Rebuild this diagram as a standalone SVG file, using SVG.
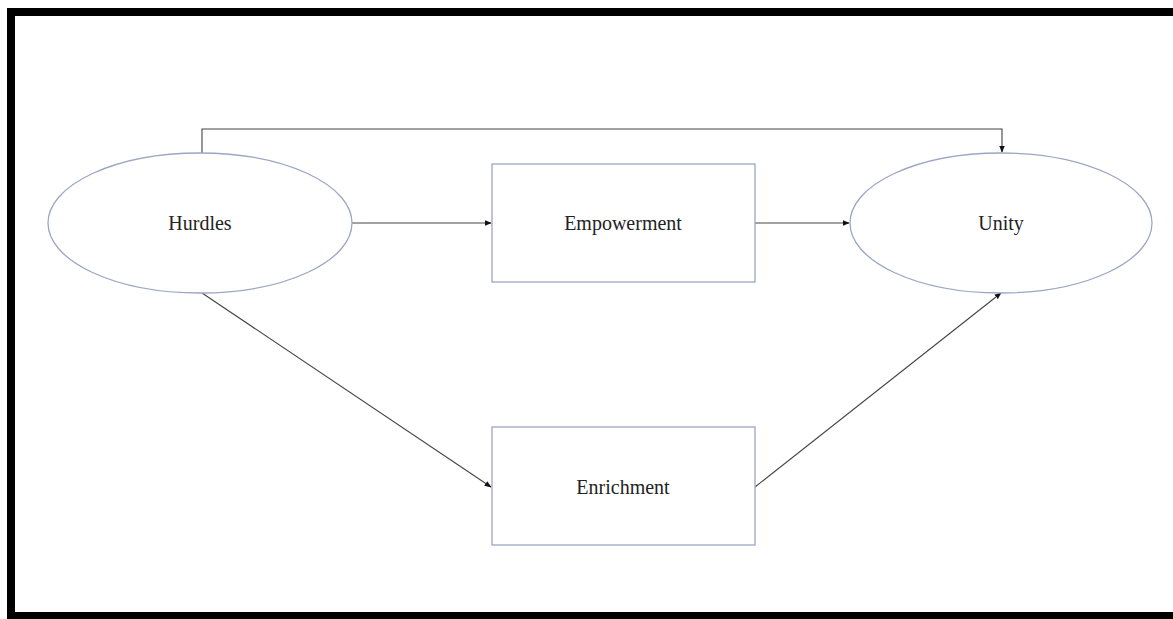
<svg xmlns="http://www.w3.org/2000/svg" width="1173" height="619" viewBox="0 0 1173 619">
<style>
.node{fill:#fff;stroke:#9aa6c4;stroke-width:1.3}
.lbl{font-family:"Liberation Serif",serif;font-size:20px;fill:#222;text-anchor:middle}
.conn{fill:none;stroke:#444;stroke-width:1.1}
</style>
<defs>
<marker id="ah" viewBox="0 0 10 10" refX="9" refY="5" markerWidth="7" markerHeight="7" orient="auto" markerUnits="userSpaceOnUse">
<path d="M0,1 L10,5 L0,9 z" fill="#111"/>
</marker>
</defs>
<rect x="0" y="0" width="1173" height="619" fill="#fff"/>
<rect x="7" y="8" width="1166" height="8" fill="#000"/>
<rect x="7" y="8" width="8" height="611" fill="#000"/>
<rect x="7" y="612" width="1166" height="7" fill="#000"/>
<g id="connectors">
<path class="conn" d="M202,153 V129 H1002 V152" marker-end="url(#ah)"/>
<path class="conn" d="M352,223 H491" marker-end="url(#ah)"/>
<path class="conn" d="M755,223 H849" marker-end="url(#ah)"/>
<path class="conn" d="M202,293 L491,487" marker-end="url(#ah)"/>
<path class="conn" d="M755,487 L1001,293" marker-end="url(#ah)"/>
</g>
<g id="hurdles">
<ellipse class="node" cx="200" cy="223" rx="152" ry="70"/>
<text class="lbl" x="200" y="230">Hurdles</text>
</g>
<g id="empowerment">
<rect class="node" x="492" y="164" width="263" height="118"/>
<text class="lbl" x="623" y="230">Empowerment</text>
</g>
<g id="unity">
<ellipse class="node" cx="1001" cy="223" rx="151" ry="70"/>
<text class="lbl" x="1001" y="230">Unity</text>
</g>
<g id="enrichment">
<rect class="node" x="492" y="427" width="263" height="118"/>
<text class="lbl" x="623" y="494">Enrichment</text>
</g>
</svg>
